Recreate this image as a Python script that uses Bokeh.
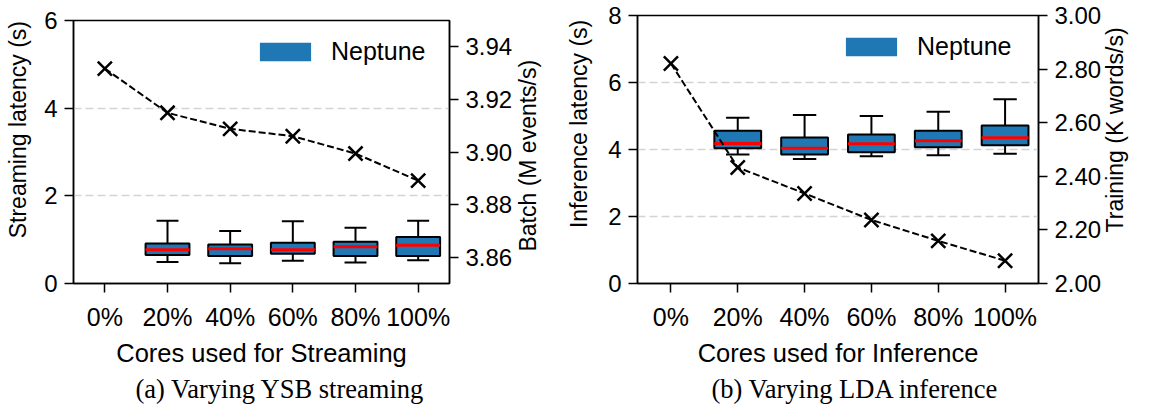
import math
import numpy as np
from bokeh.plotting import figure
from bokeh.models import (Range1d, LinearAxis, FixedTicker, PrintfTickFormatter,
                          Legend, LegendItem, ColumnDataSource)
from bokeh.layouts import row
from bokeh.embed import file_html
from bokeh.resources import INLINE

# ---------------- data ----------------
categories = ["0%", "20%", "40%", "60%", "80%", "100%"]
box_categories = ["20%", "40%", "60%", "80%", "100%"]

# (a) Varying YSB streaming
stream_whisker_low = [0.49, 0.46, 0.52, 0.48, 0.53]
stream_q1 = [0.65, 0.63, 0.68, 0.63, 0.63]
stream_median = [0.77, 0.79, 0.77, 0.84, 0.87]
stream_q3 = [0.91, 0.89, 0.93, 0.95, 1.06]
stream_whisker_high = [1.43, 1.20, 1.42, 1.27, 1.43]
batch_throughput = [3.9317, 3.9149, 3.9088, 3.9060, 3.8994, 3.8891]

# (b) Varying LDA inference
infer_whisker_low = [3.85, 3.72, 3.80, 3.83, 3.87]
infer_q1 = [4.04, 3.85, 3.92, 4.07, 4.13]
infer_median = [4.18, 4.04, 4.17, 4.26, 4.35]
infer_q3 = [4.56, 4.36, 4.45, 4.56, 4.72]
infer_whisker_high = [4.95, 5.03, 5.00, 5.13, 5.50]
training_throughput = [2.821, 2.433, 2.336, 2.237, 2.159, 2.085]

left_ticks_a = [0, 2, 4, 6]
right_ticks_a = [3.86, 3.88, 3.90, 3.92, 3.94]
left_ticks_b = [0, 2, 4, 6, 8]
right_ticks_b = [2.0, 2.2, 2.4, 2.6, 2.8, 3.0]

BLUE = "#1f77b4"
SANS = "Liberation Sans"
SERIF = "Liberation Serif"
NB = "\u00a0"


def style_axis(ax, label, ticks, label_size="23px"):
    ax.axis_label = label
    ax.ticker = FixedTicker(ticks=ticks)
    ax.axis_label_text_font = SANS
    ax.axis_label_text_font_size = label_size
    ax.axis_label_text_font_style = "normal"
    ax.axis_label_text_color = "black"
    ax.major_label_text_font = SANS
    ax.major_label_text_font_size = "24px"
    ax.major_label_text_color = "black"
    ax.axis_line_color = "black"
    ax.axis_line_width = 1.5
    ax.major_tick_line_color = "black"
    ax.major_tick_line_width = 1.5
    ax.major_tick_in = 0
    ax.major_tick_out = 9
    ax.minor_tick_line_color = None
    ax.major_label_standoff = 7
    ax.axis_label_standoff = 7


def make_panel(width, height, borders, margin, ymax, rrange, left_ticks, right_ticks,
               left_label, right_label, x_label, caption, cap_offset,
               wlow, q1, med, q3, whigh, line_vals, legend_loc,
               left_standoff, right_standoff):
    bl, br, bt, bb = borders
    p = figure(width=width, height=height, output_backend="svg", toolbar_location=None,
               x_range=Range1d(-0.5, len(categories) - 0.5), y_range=Range1d(0, ymax),
               min_border_left=bl, min_border_right=br, min_border_top=bt,
               min_border_bottom=bb, title=caption, title_location="below",
               margin=margin)
    p.outline_line_color = "black"
    p.outline_line_width = 1.5
    p.background_fill_color = "white"
    p.border_fill_color = "white"
    p.extra_y_ranges = {"right": Range1d(*rrange)}

    # caption as title below
    p.title.text_font = SERIF
    p.title.text_font_size = "26.5px"
    p.title.text_font_style = "normal"
    p.title.text_color = "black"
    p.title.align = "left"
    p.title.offset = cap_offset
    p.title.standoff = 4

    # axes
    lax = p.yaxis[0]
    style_axis(lax, left_label, left_ticks)
    lax.axis_label_standoff = left_standoff

    xax = p.xaxis[0]
    style_axis(xax, x_label, list(range(len(categories))), label_size="25.5px")
    xax.major_label_overrides = {i: c for i, c in enumerate(categories)}
    xax.major_label_text_font_size = "25px"
    xax.major_label_standoff = 10
    xax.axis_label_standoff = 5

    rax = LinearAxis(y_range_name="right")
    style_axis(rax, right_label, right_ticks)
    rax.formatter = PrintfTickFormatter(format="%.2f")
    rax.axis_label_orientation = math.pi / 2
    rax.axis_label_align = "start"
    rax.axis_label_standoff = right_standoff
    p.add_layout(rax, "right")

    # grid
    p.xgrid.grid_line_color = None
    p.ygrid.grid_line_color = "#d4d4d4"
    p.ygrid.grid_line_dash = "8 4"
    p.ygrid.grid_line_width = 1.5

    # box plots
    xs = np.array([categories.index(c) for c in box_categories], dtype=float)
    bw = 0.7
    src = ColumnDataSource(dict(x=xs, wlow=wlow, q1=q1, med=med, q3=q3, whigh=whigh,
                                cl=xs - bw / 4, cr=xs + bw / 4,
                                ml=xs - bw / 2, mr=xs + bw / 2))
    p.segment(x0="x", y0="q3", x1="x", y1="whigh", source=src, line_color="black", line_width=2)
    p.segment(x0="x", y0="q1", x1="x", y1="wlow", source=src, line_color="black", line_width=2)
    p.segment(x0="cl", y0="whigh", x1="cr", y1="whigh", source=src, line_color="black", line_width=2)
    p.segment(x0="cl", y0="wlow", x1="cr", y1="wlow", source=src, line_color="black", line_width=2)
    p.vbar(x="x", top="q3", bottom="q1", width=bw, source=src,
           fill_color=BLUE, line_color="black", line_width=2)
    p.segment(x0="ml", y0="med", x1="mr", y1="med", source=src, line_color="red", line_width=3)

    # throughput line on right axis
    xl = np.arange(len(categories))
    p.line(x=xl, y=line_vals, y_range_name="right", line_color="black",
           line_width=2, line_dash="7 3")
    p.scatter(x=xl, y=line_vals, y_range_name="right", marker="x", size=20,
              line_color="black", line_width=2.5)

    # legend (swatch without outline, drawn from an invisible copy of the boxes)
    swatch = p.vbar(x="x", top="q3", bottom="q1", width=bw, source=src,
                    fill_color=BLUE, line_color=None, visible=False)
    legend = Legend(items=[LegendItem(label="Neptune", renderers=[swatch])],
                    location=legend_loc, glyph_width=64, glyph_height=23,
                    label_standoff=14, padding=0, margin=0,
                    border_line_color=None, background_fill_alpha=0,
                    inactive_fill_alpha=0,
                    label_text_font=SANS, label_text_font_size="25px",
                    label_text_color="black", label_height=28)
    p.add_layout(legend)
    return p


pa = make_panel(562, 401, (73, 113, 15, 123), (5, 0, 0, 0), 6, (3.85, 3.95),
                left_ticks_a, right_ticks_a,
                NB * 7 + "Streaming latency (s)", NB * 5 + "Batch (M events/s)",
                "Cores used for Streaming", "(a) Varying YSB streaming", 62,
                stream_whisker_low, stream_q1, stream_median, stream_q3, stream_whisker_high,
                batch_throughput, (180, 217), 10, 13)

pb = make_panel(587, 406, (75, 111, 15, 123), (0, 0, 0, 0), 8, (2.0, 3.0),
                left_ticks_b, right_ticks_b,
                NB * 8 + "Inference latency (s)", NB * 8 + "Training (K words/s)",
                "Cores used for Inference", "(b) Varying LDA inference", 74,
                infer_whisker_low, infer_q1, infer_median, infer_q3, infer_whisker_high,
                training_throughput, (202, 222), 13, 11)

layout = row(pa, pb, spacing=0)
open("out.html", "w").write(file_html(layout, INLINE))
